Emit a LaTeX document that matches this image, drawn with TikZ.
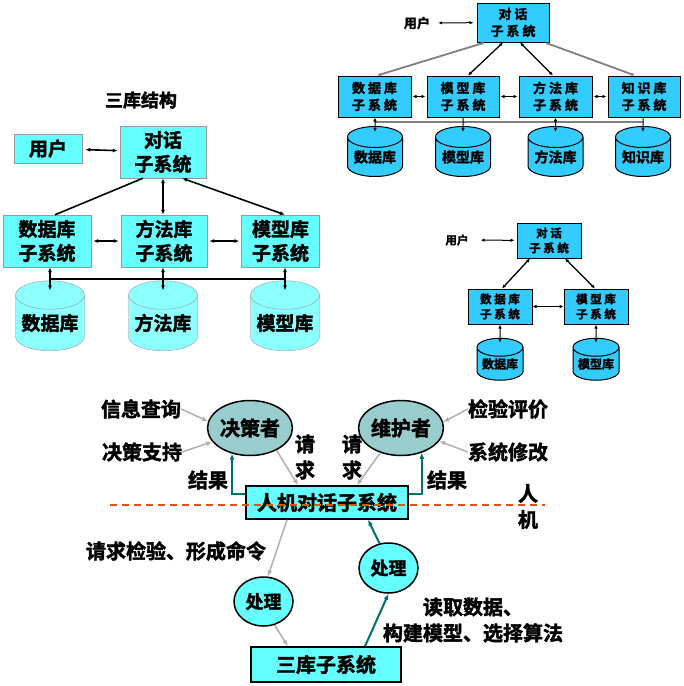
\documentclass[tikz,border=0pt]{standalone}
\usepackage{fontspec}
\setmainfont{Noto Sans CJK SC}[BoldFont={Noto Sans CJK SC Bold},BoldFeatures={FakeBold=2}]
\usetikzlibrary{shapes.geometric,arrows.meta}
\definecolor{aqua}{HTML}{66FFFF}
\definecolor{aqualt}{HTML}{8CFFFF}
\definecolor{sky}{HTML}{33CCFF}
\definecolor{sage}{HTML}{99CCCC}
\definecolor{tealink}{HTML}{007070}
\definecolor{greyarr}{HTML}{B0B0B0}
\definecolor{cutred}{HTML}{E0501B}

\begin{document}
\begin{tikzpicture}[x=1pt,y=-1pt,font=\bfseries,>={Latex[length=5pt,width=4pt]},
     lbox/.style={draw=gray!80,fill=aqua,minimum width=#1,minimum height=52pt,align=center,inner sep=0pt,font=\fontsize{19}{24}\selectfont\bfseries},
     lcyl/.style={cylinder,shape border rotate=90,aspect=0.5,draw=gray!80,fill=aqualt,minimum width=69pt,minimum height=70pt,inner sep=0pt,font=\fontsize{19}{24}\selectfont\bfseries},
     tbox/.style={draw=black,line width=1pt,fill=sky,minimum width=#1,minimum height=41pt,align=center,inner sep=0pt,font=\fontsize{13}{17}\selectfont\bfseries},
     tcyl/.style={cylinder,shape border rotate=90,aspect=0.5,draw=black,line width=1pt,fill=sky,minimum width=55pt,minimum height=50pt,inner sep=0pt,font=\fontsize{14}{16}\selectfont\bfseries},
     mbox/.style={draw=black,line width=1pt,fill=sky,minimum width=64pt,minimum height=35pt,align=center,inner sep=0pt,font=\fontsize{11.5}{15}\selectfont\bfseries},
     mcyl/.style={cylinder,shape border rotate=90,aspect=0.5,draw=black,line width=1pt,fill=sky,minimum width=46pt,minimum height=42pt,inner sep=0pt,font=\fontsize{12}{14}\selectfont\bfseries},
     bbox/.style={draw=black,line width=1.5pt,fill=aqua,minimum height=33pt,inner sep=0pt,font=\fontsize{20}{24}\selectfont\bfseries},
     role/.style={ellipse,draw=black,line width=1.5pt,fill=sage,minimum width=69pt,minimum height=55pt,inner sep=0pt,font=\fontsize{20}{24}\selectfont\bfseries},
     proc/.style={ellipse,draw=black,line width=1.5pt,fill=aqua,minimum width=59pt,minimum height=49pt,inner sep=0pt,font=\fontsize{18}{22}\selectfont\bfseries},
     lbl/.style={inner sep=0pt,align=center,font=\fontsize{20}{26}\selectfont\bfseries},
     larr/.style={<->,line width=1.6pt},
     tarr/.style={<->,line width=1pt,>={Latex[length=4pt,width=3.5pt]}},
     garr/.style={->,line width=1.5pt,draw=greyarr,>={Latex[length=6pt,width=5pt]}},
     karr/.style={->,line width=2pt,draw=tealink,>={Latex[length=6pt,width=5pt]}}]
  \useasboundingbox (0,0) rectangle (684,686);
  % three-library structure
  \node[inner sep=0pt,font=\fontsize{18}{20}\selectfont\bfseries] (ttl) at (141,100) {三库结构};
  \node[lbox=68pt,minimum height=29pt] (uL) at (48,148.5) {用户};
  \node[lbox=86pt] (dlgL) at (163,152) {对话\\子系统};
  \node[lbox=88pt] (dbL) at (47,241) {数据库\\子系统};
  \node[lbox=86pt] (mtL) at (164,241) {方法库\\子系统};
  \node[lbox=78pt] (mdL) at (280.5,241) {模型库\\子系统};
  \node[lcyl] (dbLc) at (50,323) {数据库};
  \node[lcyl] (mtLc) at (163,323) {方法库};
  \node[lcyl] (mdLc) at (285,323) {模型库};
  \draw[larr,shorten <=3pt,shorten >=2pt] (uL) -- (dlgL);
  \draw[line width=1.6pt] ([xshift=-20pt]dlgL.south) -- ([xshift=8pt]dbL.north);
  \draw[larr] (dlgL.south) -- (dlgL.south |- mtL.north);
  \draw[larr] ([xshift=19pt]dlgL.south) -- ([xshift=4.5pt]mdL.north);
  \draw[larr,shorten <=2pt,shorten >=2pt] (dbL) -- (mtL);
  \draw[larr,shorten <=2pt,shorten >=2pt] (mtL) -- (mdL);
  \coordinate (busL1) at (50,279); \coordinate (busL2) at (285,279);
  \draw[line width=1.6pt] (busL1) -- (busL2);
  \foreach \b/\c in {dbL/dbLc,mtL/mtLc,mdL/mdLc}{\draw[larr] (\b.south -| \c) -- ([yshift=-10pt]\c.north);}
  % four-library structure
  \node[inner sep=0pt,font=\fontsize{13}{15}\selectfont\bfseries] (uT) at (417,23) {用户};
  \node[tbox=72pt,minimum height=39pt] (dlgT) at (513,22.5) {对 话\\子 系 统};
  \node[tbox=73pt] (dbT) at (374.5,96.5) {数 据 库\\子 系 统};
  \node[tbox=72pt] (mdT) at (463,96.5) {模 型 库\\子 系 统};
  \node[tbox=73pt] (mtT) at (555.5,96.5) {方 法 库\\子 系 统};
  \node[tbox=72pt] (knT) at (644,96.5) {知 识 库\\子 系 统};
  \node[tcyl] (dbTc) at (375,157) {数据库};
  \node[tcyl] (mdTc) at (463,157) {模型库};
  \node[tcyl] (mtTc) at (555.5,157) {方法库};
  \node[tcyl] (knTc) at (643,157) {知识库};
  \draw[tarr,shorten <=8pt,shorten >=3pt] (uT) -- (dlgT);
  \draw[tarr,line width=1.8pt,draw=gray] ([xshift=-28pt]dlgT.south) -- ([xshift=2.5pt]dbT.north);
  \draw[tarr,line width=1.3pt] ([xshift=-10pt]dlgT.south) -- ([xshift=5pt]mdT.north);
  \draw[tarr,line width=1.3pt] ([xshift=7pt]dlgT.south) -- ([xshift=-2.5pt]mtT.north);
  \draw[tarr,line width=1.8pt,draw=gray] ([xshift=32pt]dlgT.south) -- ([xshift=-9pt]knT.north);
  \draw[tarr,shorten <=1pt,shorten >=1pt] (dbT) -- (mdT);
  \draw[tarr,shorten <=1pt,shorten >=1pt] (mdT) -- (mtT);
  \draw[tarr,shorten <=1pt,shorten >=1pt] (mtT) -- (knT);
  \coordinate (busT1) at (375,122); \coordinate (busT2) at (643,122);
  \draw[line width=1.8pt,draw=gray] (busT1) -- (busT2);
  \draw[tarr] (dbT.south -| dbTc) -- ([yshift=-6pt]dbTc.north);
  \draw[tarr,-{Latex[length=4pt,width=3.5pt]}] (mdT.south -| mdTc) -- ([yshift=-6pt]mdTc.north);
  \draw[tarr] (mtT.south -| mtTc) -- ([yshift=-6pt]mtTc.north);
  \draw[tarr,-{Latex[length=4pt,width=3.5pt]}] (knT.south -| knTc) -- ([yshift=-6pt]knTc.north);
  % two-library structure
  \node[inner sep=0pt,font=\fontsize{11.5}{13}\selectfont\bfseries] (uM) at (457,240) {用户};
  \node[mbox] (dlgM) at (549,240.5) {对 话\\子 系 统};
  \node[mbox] (dbM) at (500,306.5) {数 据 库\\子 系 统};
  \node[mbox] (mdM) at (596,306.5) {模 型 库\\子 系 统};
  \node[mcyl] (dbMc) at (500,364) {数据库};
  \node[mcyl] (mdMc) at (596,364) {模型库};
  \draw[tarr,shorten <=12pt,shorten >=2pt] (uM) -- (dlgM);
  \draw[tarr,line width=1.3pt] ([xshift=-19pt]dlgM.south) -- ([xshift=2pt]dbM.north);
  \draw[tarr,line width=1.3pt] ([xshift=16pt]dlgM.south) -- ([xshift=-1pt]mdM.north);
  \draw[tarr,line width=1.3pt] (dbM) -- (mdM);
  \draw[tarr] (dbM.south) -- ([yshift=-5pt]dbMc.north);
  \draw[tarr] (mdM.south) -- ([yshift=-5pt]mdMc.north);
  % man-machine dialogue
  \node[role] (dm) at (250,428) {决策者};
  \node[role,minimum width=68pt] (wh) at (401,428) {维护者};
  \node[lbl] (q1) at (141,409) {信息查询};
  \node[lbl] (q2) at (142,452) {决策支持};
  \node[lbl] (q3) at (508,409) {检验评价};
  \node[lbl] (q4) at (508,452) {系统修改};
  \node[bbox,minimum width=162pt] (hm) at (327,502.5) {人机对话子系统};
  \node[lbl] (rs1) at (208,480) {结果};
  \node[lbl] (rs2) at (447,480) {结果};
  \node[lbl] (rq1) at (305,457) {请\\求};
  \node[lbl] (rq2) at (352,457) {请\\求};
  \node[lbl] (side) at (528,506.5) {人\\机};
  \node[lbl] (cmd) at (176,551) {请求检验、形成命令};
  \node[proc] (p1) at (263.5,601.5) {处理};
  \node[proc,minimum height=50pt] (p2) at (388.5,568) {处理};
  \node[bbox,minimum width=150pt,minimum height=35pt] (sk) at (326,664.5) {三库子系统};
  \node[lbl] (rd) at (473,620) {读取数据、\\构建模型、选择算法};
  \coordinate (cut1) at (110,505); \coordinate (cut2) at (545,505);
  \draw[cutred,line width=2pt,dash pattern=on 7pt off 5pt] (cut1) -- (cut2);
  \draw[garr] (q1.east) -- (dm.171);
  \draw[garr] (q2.east) -- (dm.200);
  \draw[garr] (q3.west) -- (wh.8);
  \draw[garr] (q4.west) -- (wh.-19);
  \draw[garr] (dm.-40) -- ([xshift=-29pt]hm.north);
  \draw[garr] (wh.-130) -- ([xshift=30pt]hm.north);
  \draw[karr] ([yshift=9pt]hm.west) -| (dm.235);
  \draw[karr] ([yshift=9pt]hm.east) -| (wh.-50);
  \draw[garr] ([xshift=-40pt]hm.south) -- (p1.80);
  \draw[garr] (p1.-65) -- ([xshift=-38pt]sk.north);
  \draw[karr] ([xshift=39pt]sk.north) -- (p2.south);
  \draw[karr] (p2.110) -- ([xshift=41pt]hm.south);
\end{tikzpicture}
\end{document}
